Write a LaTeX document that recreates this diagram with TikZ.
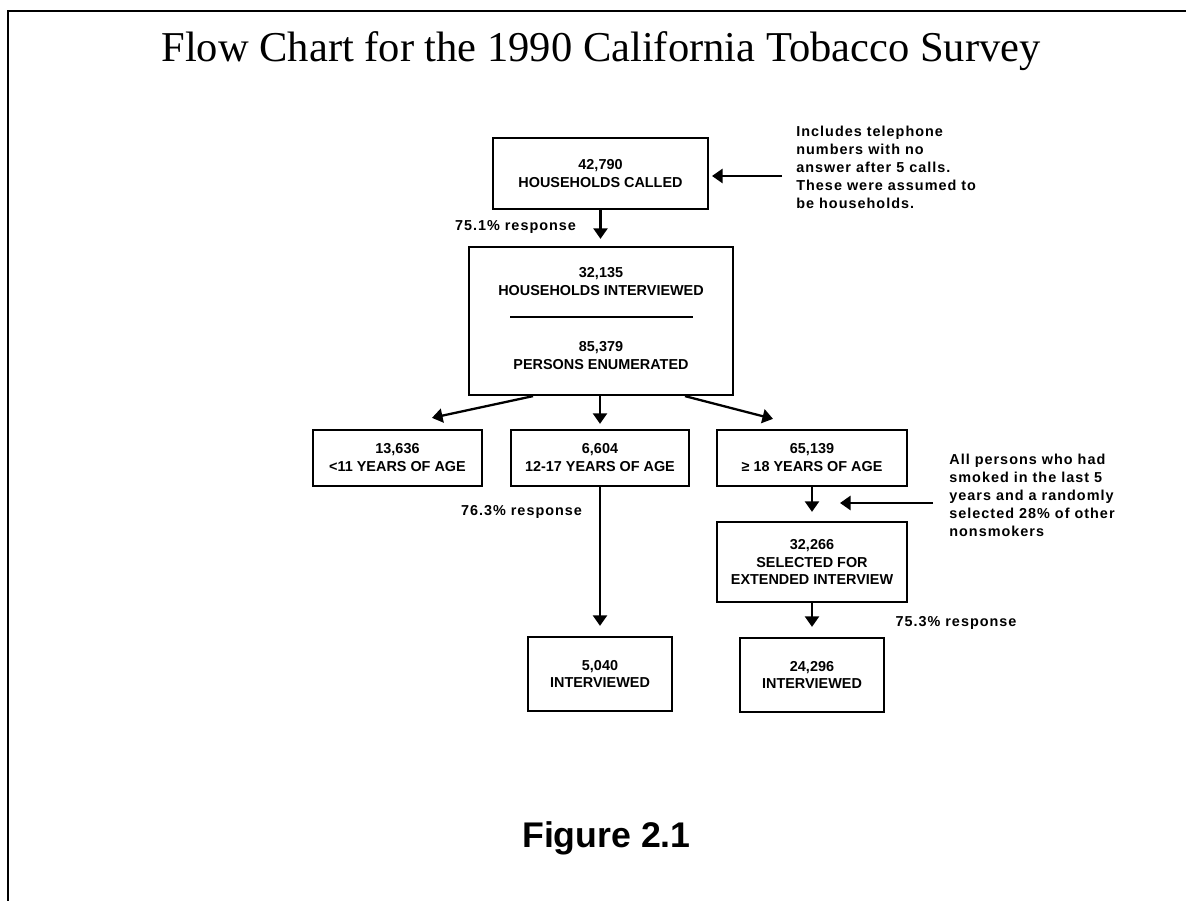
\documentclass[tikz,border=0pt]{standalone}
\usepackage{fontspec}
\setmainfont{Liberation Serif}
\newfontfamily\helv{Liberation Sans}
\newfontfamily\helvsp{Liberation Sans}[LetterSpace=7]
\usetikzlibrary{arrows.meta}

\begin{document}
\begin{tikzpicture}[x=0.02cm, y=-0.02cm,
	mybox/.style={draw, line width=1.3pt, inner sep=0pt, align=center, font=\helv\bfseries\fontsize{8.2}{10.2}\selectfont},
	mynote/.style={inner sep=0pt, align=left, font=\helvsp\bfseries\fontsize{8.2}{10.2}\selectfont},
	myarrow/.style={line width=1.3pt, -{Triangle[width=8pt, length=6pt]}}]
			\useasboundingbox (0,0) rectangle (1186,901);
			\draw[line width=1.2pt] (8,901) -- (8,11) -- (1186,11);

			\node[anchor=base, font=\fontsize{24.2}{29}\selectfont] (title) at (601,62) {Flow Chart for the 1990 California Tobacco Survey};

			\node[mybox, minimum width=4.30cm, minimum height=1.42cm] at (600.5,173.5) (called) {42,790\\HOUSEHOLDS CALLED};
			\node[mybox, minimum width=5.28cm, minimum height=2.96cm] at (601,321) (hh) {};
			\node[mybox, draw=none] at (601,282) (hhtop) {32,135\\HOUSEHOLDS INTERVIEWED};
			\node[mybox, draw=none] at (601,356) (hhbot) {85,379\\PERSONS ENUMERATED};
			\draw[line width=1pt] (510,317) -- (693,317);

			\node[mybox, minimum width=3.38cm, minimum height=1.12cm] at (397.5,458) (young) {13,636\\<11 YEARS OF AGE};
			\node[mybox, minimum width=3.56cm, minimum height=1.12cm] at (600,458) (teen) {6,604\\12-17 YEARS OF AGE};
			\node[mybox, minimum width=3.80cm, minimum height=1.12cm] at (812,458) (adult) {65,139\\≥ 18 YEARS OF AGE};
			\node[mybox, minimum width=3.80cm, minimum height=1.60cm] at (812,562) (sel) {32,266\\SELECTED FOR\\EXTENDED INTERVIEW};
			\node[mybox, minimum width=2.88cm, minimum height=1.48cm] at (600,674) (int1) {5,040\\INTERVIEWED};
			\node[mybox, minimum width=2.88cm, minimum height=1.48cm] at (812,675) (int2) {24,296\\INTERVIEWED};

			\node[mynote, anchor=north west] at (796,126) (note1) {Includes telephone\\numbers with no\\answer after 5 calls.\\These were assumed to\\be households.};
			\node[mynote, anchor=north west] at (949,454) (note2) {All persons who had\\smoked in the last 5\\years and a randomly\\selected 28\% of other\\nonsmokers};

			\node[mynote] at (515.5,227) (resp1) {75.1\% response};
			\node[mynote] at (521.5,512) (resp2) {76.3\% response};
			\node[mynote] at (956,623) (resp3) {75.3\% response};

			\node[anchor=base, font=\helv\bfseries\fontsize{20.3}{24}\selectfont] at (606.5,847) (fig) {Figure 2.1};

			\coordinate (n1tip) at (712,176);
			\coordinate (n2tip) at (840,503);

			\path
			(called.south) edge[myarrow, shorten >=0.14cm] (called.south |- hh.north)
			([xshift=-1.36cm]hh.south) edge[myarrow] ([xshift=0.69cm, yshift=0.22cm]young.north)
			(teen.north |- hh.south) edge[myarrow, shorten >=0.1cm] (teen.north)
			([xshift=1.68cm]hh.south) edge[myarrow] ([xshift=-0.78cm, yshift=0.2cm]adult.north)
			(teen.south) edge[myarrow, shorten >=0.2cm] (int1.north)
			(adult.south) edge[myarrow, shorten >=0.18cm] (sel.north)
			(sel.south) edge[myarrow, shorten >=0.2cm] (int2.north)
			([xshift=-0.28cm]n1tip -| note1.west) edge[myarrow] (n1tip)
			([xshift=-0.32cm]n2tip -| note2.west) edge[myarrow] (n2tip);
		\end{tikzpicture}
\end{document}
